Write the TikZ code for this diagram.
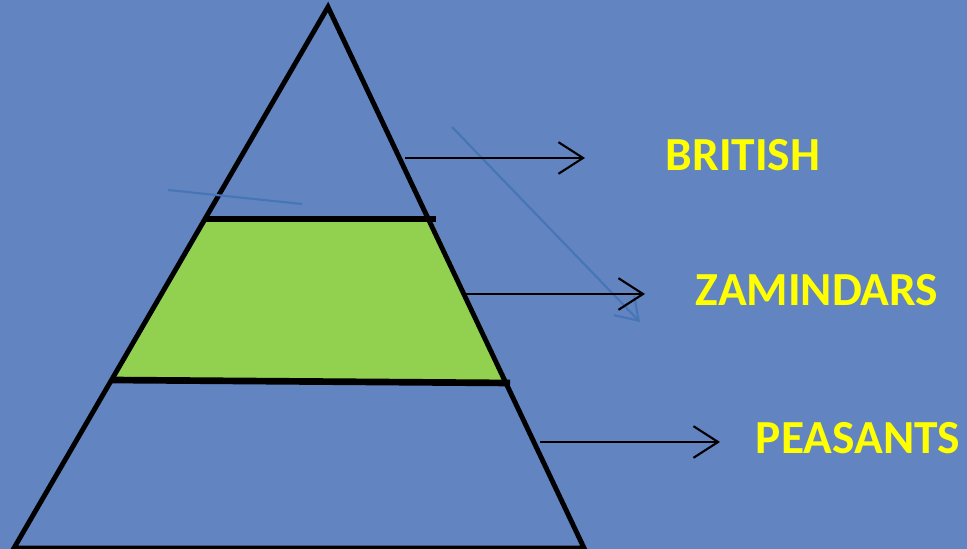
\documentclass[tikz,border=0pt]{standalone}
\usepackage{fontspec}
\setmainfont{Carlito}
\usepackage{tikz}
\usetikzlibrary{arrows.meta}
\definecolor{cloth}{RGB}{98,132,192}
\definecolor{layergreen}{RGB}{146,208,80}
\definecolor{labelyellow}{RGB}{255,255,0}
\definecolor{faintline}{RGB}{70,118,182}

\begin{document}
\begin{tikzpicture}[
  x=0.1mm, y=-0.1mm,
  outline/.style={line width=1.4pt, line join=miter},
  band/.style={line width=1.9pt},
  arr/.style={-{Straight Barb[length=7pt, width=9pt]}, line width=0.6pt},
  faint/.style={faintline, line width=0.6pt},
  lbl/.style={text=labelyellow, font=\bfseries\fontsize{13.5}{15}\selectfont, inner sep=0pt}
]
  % background
  \fill[cloth] (0,0) rectangle (967,549);
  \useasboundingbox (0,0) rectangle (967,549);

  % middle layer
  \fill[layergreen] (208,219) -- (431,219) -- (508,382) -- (113,382) -- cycle;

  % pyramid
  \draw[outline] (328,7) -- (584,548) -- (14,548) -- cycle;
  \draw[band] (205,219) -- (436,219);
  \draw[band] (111,380) -- (510,383);

  % faint strokes
  \draw[faint] (168,190) -- (302,204);
  \draw[faint, -{Straight Barb[length=6pt, width=8pt]}] (452,127) -- (640,322);

  % anchors and labels
  \coordinate (topside) at (405,158);
  \coordinate (topend)  at (585,158);
  \coordinate (midside) at (465,294);
  \coordinate (midend)  at (645,294);
  \coordinate (lowside) at (540,442);
  \coordinate (lowend)  at (720,442);

  \node[lbl] (british)   at (743,155) {BRITISH};
  \node[lbl] (zamindars) at (817,290) {ZAMINDARS};
  \node[lbl] (peasants)  at (858,438) {PEASANTS};

  \draw[arr] (topside) -- (topend);
  \draw[arr] (midside) -- (midend);
  \draw[arr] (lowside) -- (lowend);
\end{tikzpicture}
\end{document}
